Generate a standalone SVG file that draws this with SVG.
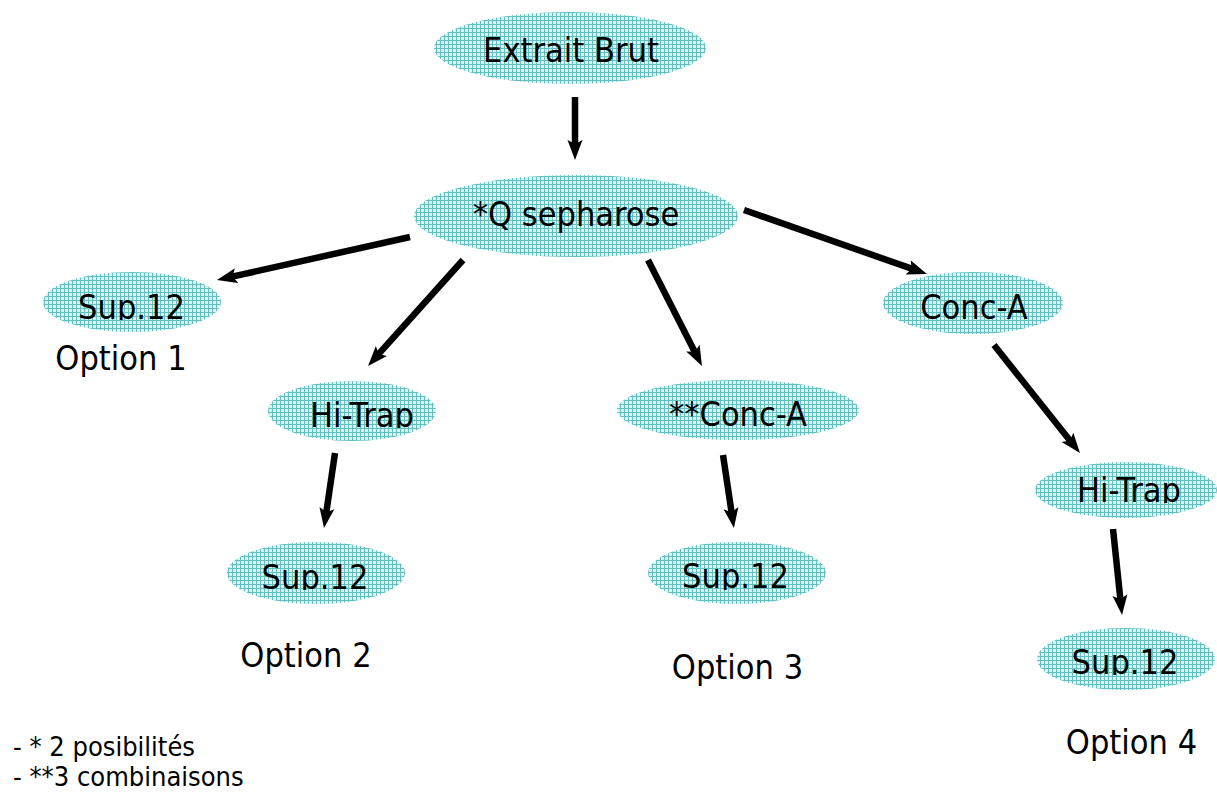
<svg xmlns="http://www.w3.org/2000/svg" width="1217" height="792" viewBox="0 0 1217 792">
<defs>
<pattern id="grid" width="4" height="4" patternUnits="userSpaceOnUse">
<rect width="4" height="4" fill="#ddf2f2"/>
<rect width="4" height="1" fill="#62bfbf"/>
<rect width="1" height="4" fill="#62bfbf"/>
</pattern>
<marker id="arr" markerUnits="userSpaceOnUse" markerWidth="22" markerHeight="18" viewBox="0 0 22 18" refX="9" refY="9" orient="auto">
<path d="M0,1.5 L20,9 L0,16.5 L4,9 Z" fill="#000"/>
</marker>
<clipPath id="c1"><rect x="0" y="0" width="1217" height="320"/></clipPath>
<clipPath id="c2"><rect x="0" y="0" width="1217" height="428"/></clipPath>
<clipPath id="c3"><rect x="0" y="0" width="1217" height="590"/></clipPath>
<clipPath id="c4"><rect x="0" y="0" width="1217" height="503"/></clipPath>
<clipPath id="c5"><rect x="0" y="0" width="1217" height="675"/></clipPath>
</defs>
<style>
.n{fill:url(#grid);stroke:none}
.t{font-family:'DejaVu Sans Condensed','DejaVu Sans',sans-serif;font-stretch:condensed;font-size:34px;fill:#000;text-anchor:middle}
.l{font-family:'DejaVu Sans Condensed','DejaVu Sans',sans-serif;font-stretch:condensed;font-size:27px;fill:#000}
.e{stroke:#000;stroke-width:6.5;fill:none;marker-end:url(#arr)}
</style>
<rect width="1217" height="792" fill="#fff"/>
<g id="connectors">
<line class="e" x1="575" y1="97" x2="575" y2="149"/>
<line class="e" x1="410" y1="237" x2="227.7" y2="277.6"/>
<line class="e" x1="463" y1="260" x2="375.4" y2="357.7"/>
<line class="e" x1="648" y1="260" x2="697" y2="356.2"/>
<line class="e" x1="744" y1="210" x2="916.6" y2="270.4"/>
<line class="e" x1="994" y1="345" x2="1073.1" y2="444.4"/>
<line class="e" x1="335" y1="453" x2="325.6" y2="517.1"/>
<line class="e" x1="723" y1="455" x2="732.3" y2="517.1"/>
<line class="e" x1="1113" y1="529" x2="1120.9" y2="604.1"/>
</g>
<g id="extrait"><ellipse class="n" cx="570" cy="48" rx="136" ry="36"/><text class="t" x="571" y="62">Extrait Brut</text></g>
<g id="qsepharose"><ellipse class="n" cx="576" cy="216" rx="162" ry="41"/><text class="t" x="576" y="226">*Q sepharose</text></g>
<g id="sup1"><ellipse class="n" cx="132" cy="302" rx="89" ry="30"/><text class="t" x="131.5" y="319" clip-path="url(#c1)">Sup.12</text></g>
<g id="hitrap1"><ellipse class="n" cx="352" cy="411" rx="84" ry="30"/><text class="t" x="362" y="427" clip-path="url(#c2)">Hi-Trap</text></g>
<g id="sup2"><ellipse class="n" cx="316" cy="573" rx="89" ry="31"/><text class="t" x="315" y="589" clip-path="url(#c3)">Sup.12</text></g>
<g id="conca2"><ellipse class="n" cx="738" cy="410" rx="121" ry="30"/><text class="t" x="738" y="426">**Conc-A</text></g>
<g id="sup3"><ellipse class="n" cx="737" cy="573" rx="89" ry="31"/><text class="t" x="735.5" y="588" clip-path="url(#c3)">Sup.12</text></g>
<g id="conca1"><ellipse class="n" cx="973" cy="303" rx="90" ry="31"/><text class="t" x="974" y="319">Conc-A</text></g>
<g id="hitrap2"><ellipse class="n" cx="1126" cy="490" rx="91" ry="28"/><text class="t" x="1129" y="502" clip-path="url(#c4)">Hi-Trap</text></g>
<g id="sup4"><ellipse class="n" cx="1126" cy="659" rx="89" ry="31"/><text class="t" x="1125" y="674" clip-path="url(#c5)">Sup.12</text></g>
<g id="labels">
<text class="t" x="121" y="370">Option 1</text>
<text class="t" x="306" y="667">Option 2</text>
<text class="t" x="737.5" y="679">Option 3</text>
<text class="t" x="1131.5" y="754">Option 4</text>
<text class="l" x="13" y="756">- * 2 posibilités</text>
<text class="l" x="13" y="786">- **3 combinaisons</text>
</g>
</svg>
